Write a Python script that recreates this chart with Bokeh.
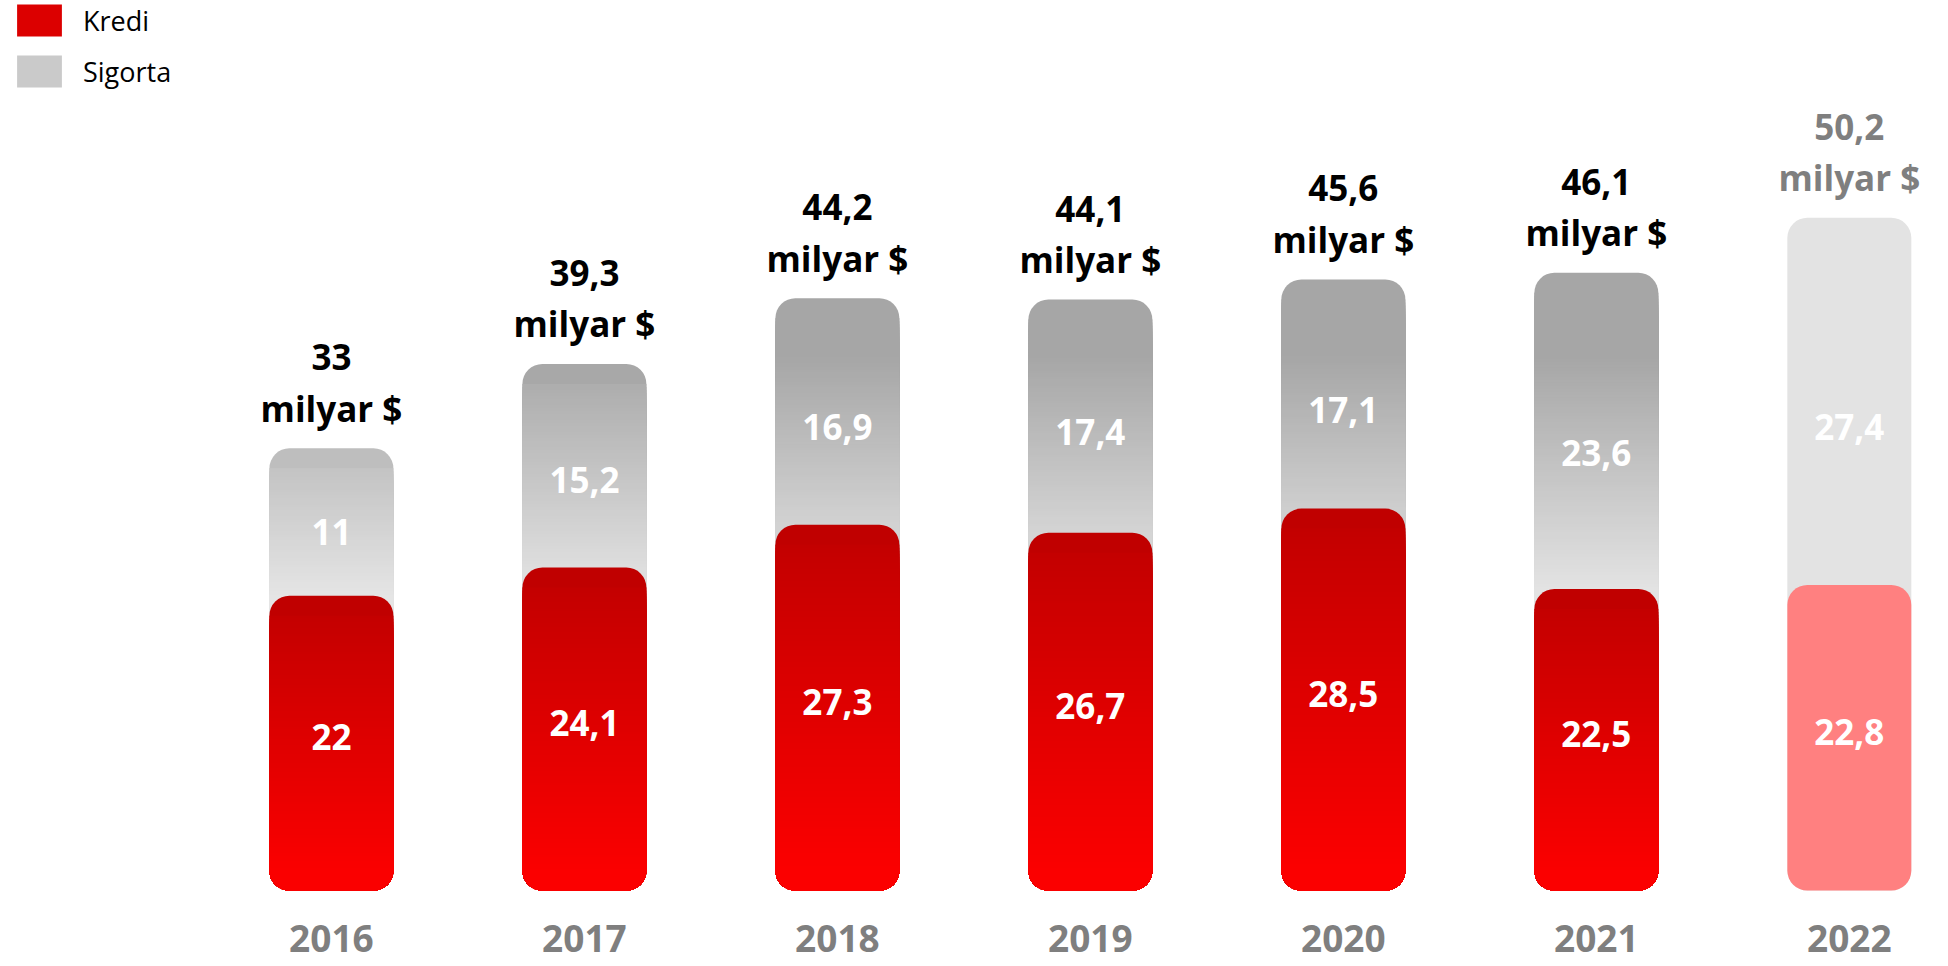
import numpy as np
from bokeh.plotting import figure
from bokeh.models import ColumnDataSource, Range1d, Legend, LegendItem
from bokeh.core.properties import value
from bokeh.embed import file_html
from bokeh.resources import INLINE

# ---- data ----
years = ["2016", "2017", "2018", "2019", "2020", "2021", "2022"]
kredi = [22, 24.1, 27.3, 26.7, 28.5, 22.5, 22.8]
sigorta = [11, 15.2, 16.9, 17.4, 17.1, 23.6, 27.4]
forecast = [False, False, False, False, False, False, True]
unit_label = "milyar $"

# ---- layout ----
W, H = 1948, 966
X0, X1 = -1.308, 6.392
Y0, Y1 = -5.67, 66.42
PPU = H / (Y1 - Y0)
R = 20
RU = R / PPU
BAR_W = 0.49
FONT = value("Open Sans")


def fmt(v):
    return f"{round(v, 1):g}".replace(".", ",")


def grey_at(v):
    t = min(max((40 - v) / 20.0, 0), 1)
    g = round(166 + t * (236 - 166))
    return "#%02x%02x%02x" % (g, g, g)


def red_at(frac):
    r = round(192 + frac * (255 - 192))
    return "#%02x0000" % r


xs = list(range(len(years)))
totals = [round(k + s, 1) for k, s in zip(kredi, sigorta)]

gcap = dict(x=[], top=[], color=[])
gin = dict(x=[], top=[], color=[])
rcap = dict(x=[], top=[], color=[])
rin = dict(x=[], top=[], color=[])
STEP = 3 / PPU

for i in xs:
    k, tot = kredi[i], totals[i]
    if forecast[i]:
        gcap["x"].append(i); gcap["top"].append(tot); gcap["color"].append("#E3E3E3")
        rcap["x"].append(i); rcap["top"].append(k); rcap["color"].append("#FF8080")
        continue
    gcap["x"].append(i); gcap["top"].append(tot); gcap["color"].append(grey_at(tot))
    lv = tot - RU
    while lv > k:
        gin["x"].append(i); gin["top"].append(lv); gin["color"].append(grey_at(lv))
        lv -= STEP
    gin["x"].append(i); gin["top"].append(k + 0.05); gin["color"].append(grey_at(k))
    rcap["x"].append(i); rcap["top"].append(k); rcap["color"].append(red_at(0))
    lv = k - RU
    while lv > RU:
        rin["x"].append(i); rin["top"].append(lv); rin["color"].append(red_at((k - lv) / k))
        lv -= STEP

p = figure(width=W, height=H, x_range=Range1d(X0, X1), y_range=Range1d(Y0, Y1),
           output_backend="svg", toolbar_location=None,
           x_axis_location=None, y_axis_location=None,
           min_border=0, min_border_left=0, min_border_right=0,
           min_border_top=0, min_border_bottom=0)
p.grid.visible = False
p.outline_line_color = None
p.background_fill_color = "white"

r_gcap = p.vbar(x="x", top="top", bottom=0, width=BAR_W, fill_color="color", line_color=None,
                border_radius=R, source=ColumnDataSource(gcap))
r_gin = p.vbar(x="x", top="top", bottom=0, width=BAR_W, fill_color="color", line_color=None,
               border_radius=(0, 0, R, R), source=ColumnDataSource(gin))
r_rcap = p.vbar(x="x", top="top", bottom=0, width=BAR_W, fill_color="color", line_color=None,
                border_radius=R, source=ColumnDataSource(rcap))
r_rin = p.vbar(x="x", top="top", bottom=0, width=BAR_W, fill_color="color", line_color=None,
               border_radius=(0, 0, R, R), source=ColumnDataSource(rin))

# labels
lab = ColumnDataSource(dict(
    x=xs,
    kmid=[k / 2 for k in kredi],
    smid=[k + 0.43 * s for k, s in zip(kredi, sigorta)],
    tot=totals,
    ktxt=[fmt(k) for k in kredi],
    stxt=[fmt(s) for s in sigorta],
    ttxt=[fmt(t) for t in totals],
    utxt=[unit_label] * len(xs),
    year=years,
    tcol=["#7F7F7F" if f else "black" for f in forecast],
    zero=[0] * len(xs),
))
common = dict(text_font=FONT, text_font_style="bold", text_align="center",
              text_baseline="middle", source=lab)
p.text(x="x", y="kmid", text="ktxt", text_color="white", text_font_size="35px",
       y_offset=-6, **common)
p.text(x="x", y="smid", text="stxt", text_color="white", text_font_size="35px", **common)
p.text(x="x", y="tot", text="ttxt", text_color="tcol", text_font_size="35px",
       y_offset=-91, **common)
p.text(x="x", y="tot", text="utxt", text_color="tcol", text_font_size="35px",
       y_offset=-40, **common)
p.text(x="x", y="zero", text="year", text_color="#7F7F7F", text_font_size="37px",
       y_offset=48, **common)


# legend: use mid-gradient rows of the strip renderers as swatches
def nearest(colors, target):
    vals = [int(c[1:3], 16) for c in colors]
    return int(np.argmin([abs(v - target) for v in vals]))


ri = nearest(rin["color"], 0xDC)
gi = nearest(gin["color"], 0xCA)
legend = Legend(items=[LegendItem(label="Kredi", renderers=[r_rin], index=ri),
                       LegendItem(label="Sigorta", renderers=[r_gin], index=gi)],
                location=(11, H - 91), orientation="vertical",
                glyph_width=56, glyph_height=40, label_height=40,
                label_text_font="Open Sans", label_text_font_size="27px",
                label_text_color="black", label_standoff=16, spacing=11,
                padding=0, margin=0, border_line_color=None,
                background_fill_alpha=0)
p.add_layout(legend)

open("out.html", "w").write(file_html(p, INLINE))
